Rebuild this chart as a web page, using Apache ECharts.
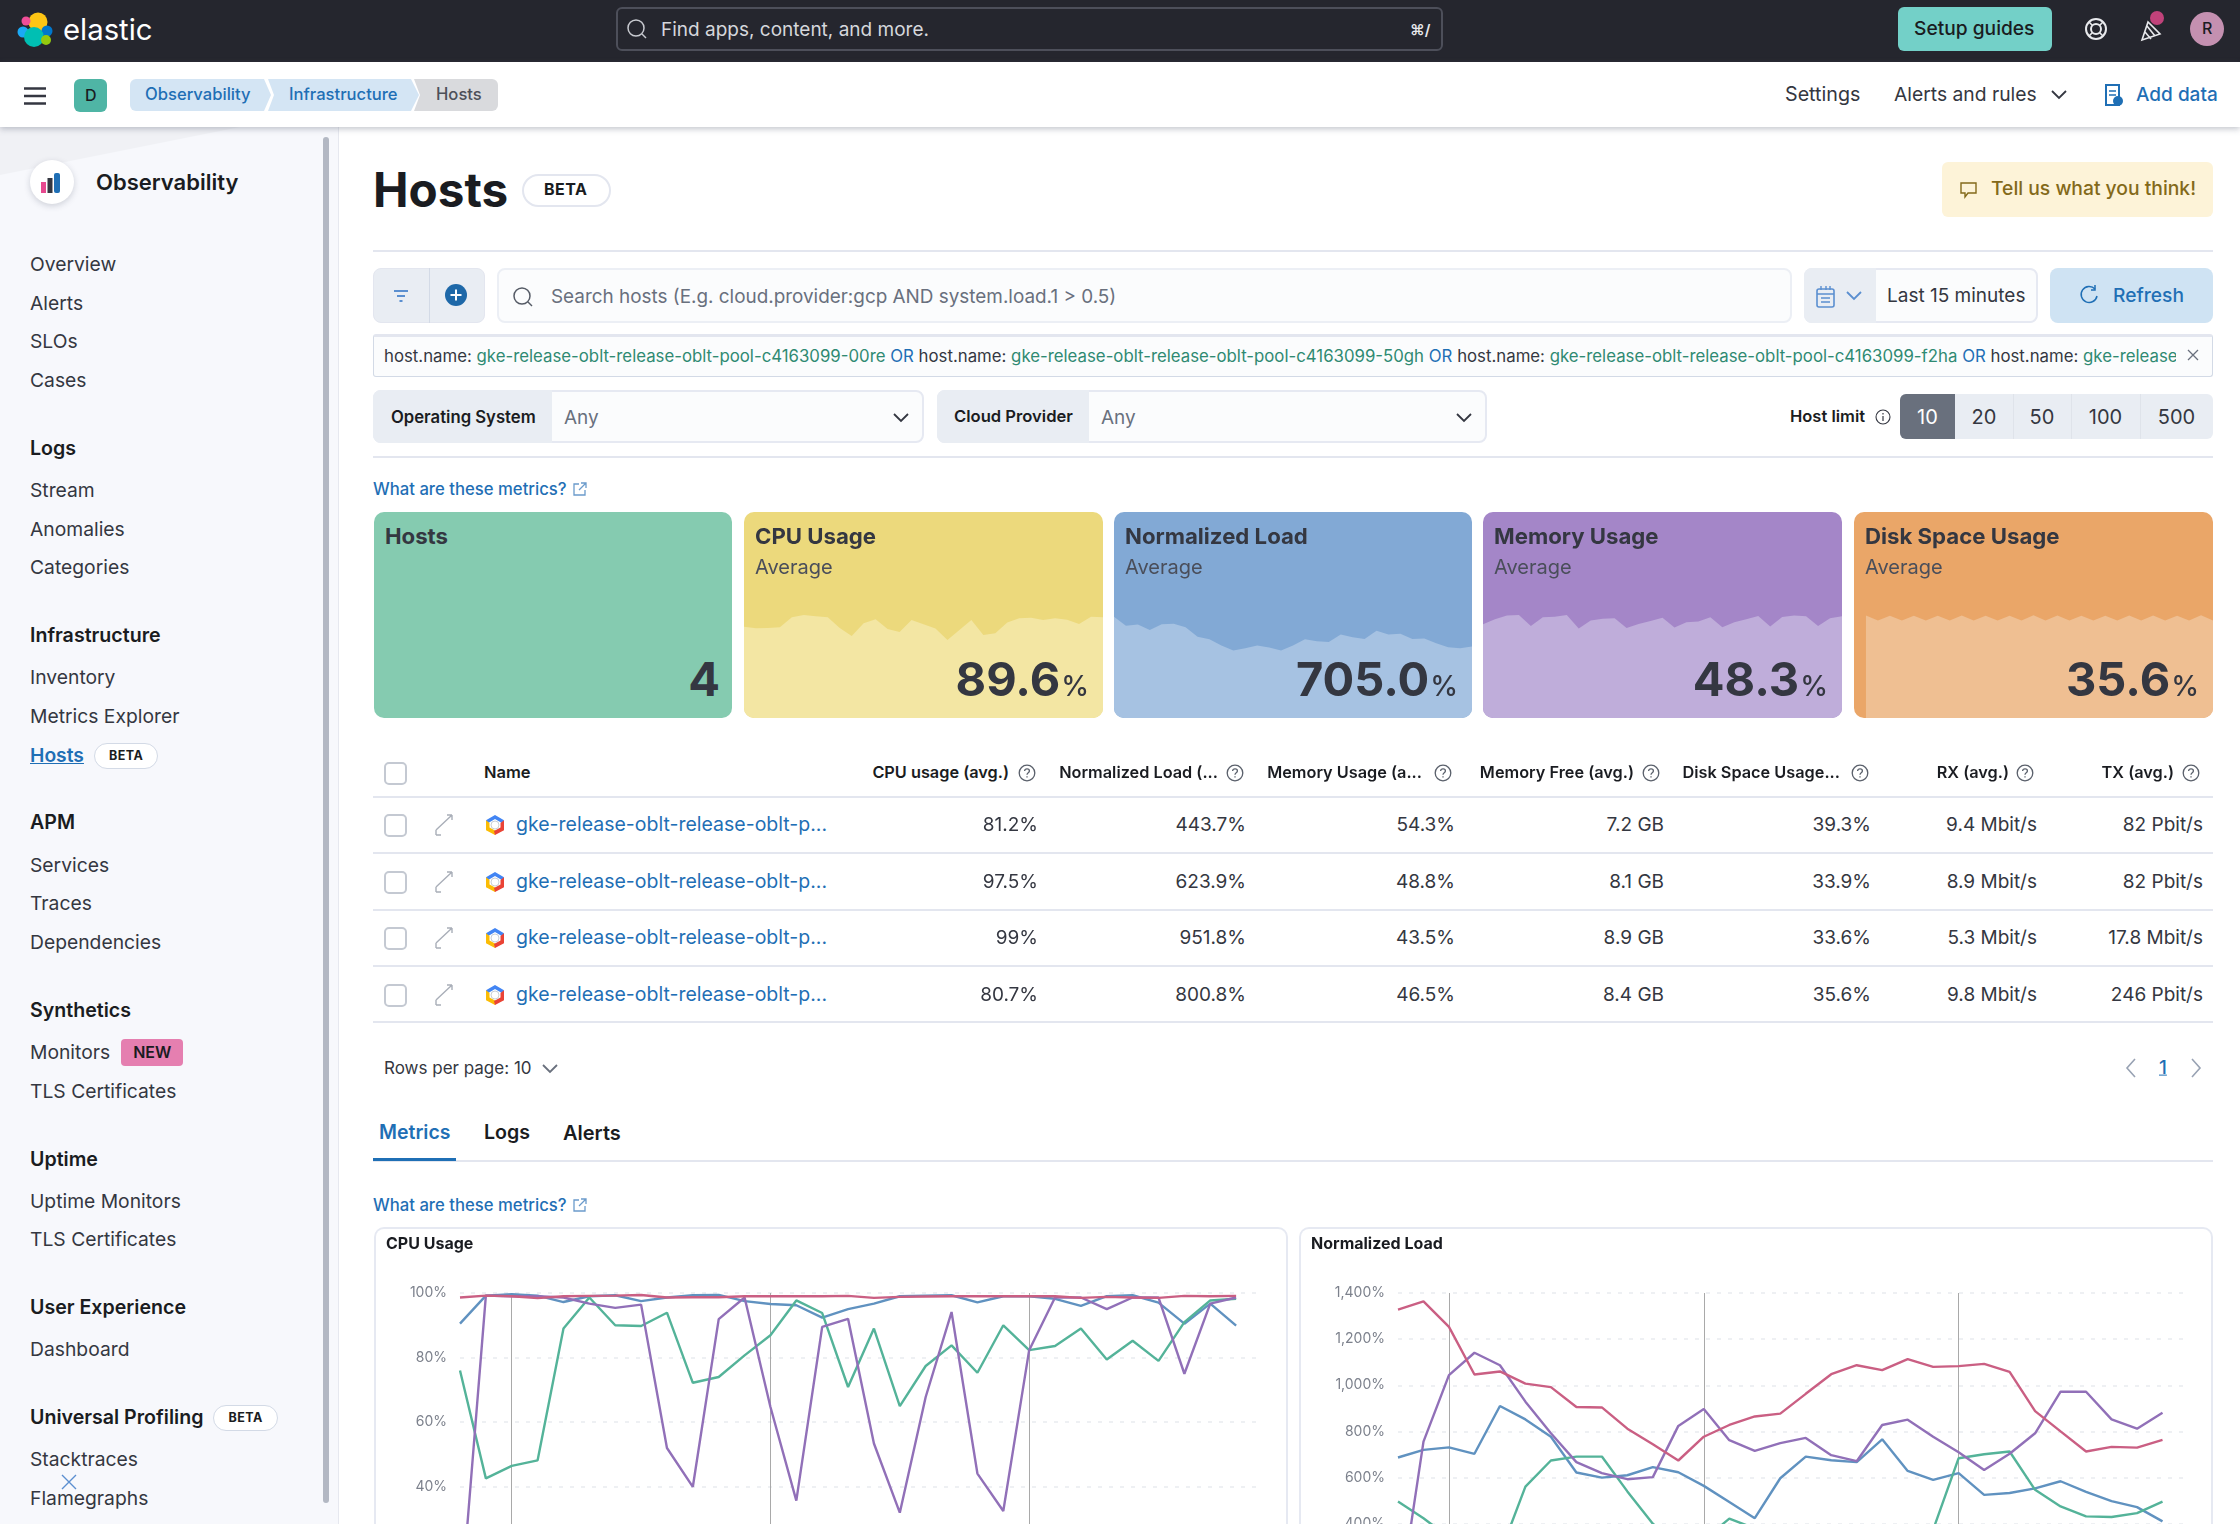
<!DOCTYPE html>
<html>
<head>
<meta charset="utf-8">
<title>Hosts - Elastic</title>
<script src="https://cdn.jsdelivr.net/npm/echarts@6/dist/echarts.min.js"></script>
<style>
  html, body { margin: 0; padding: 0; width: 2240px; height: 1524px; overflow: hidden; background: #fff; }
  body { position: relative; font-family: Inter, "Noto Sans", sans-serif; color: #343741; font-size: 20px; }
  .a { position: absolute; box-sizing: border-box; }
  .t { position: absolute; white-space: nowrap; transform: translateY(-50%); line-height: 1.2; }
  .topbar { left: 0; top: 0; width: 2240px; height: 62px; background: #25262e; }
  .subbar { left: 0; top: 62px; width: 2240px; height: 65px; background: #fff; box-shadow: 0 2px 6px rgba(80,90,110,.35); z-index: 3; }
  .side { left: 0; top: 127px; width: 339px; height: 1397px; background: #f7f8fc; border-right: 1px solid #e6e8ef; overflow: hidden; }
  .sidecorner { left: 0; top: 0; width: 339px; height: 60px; background: #f0f1f5; clip-path: polygon(0 0, 240px 0, 0 48px); }
  .scroll { left: 323px; top: 10px; width: 6px; height: 1366px; background: #b3b8c3; border-radius: 3px; }
  .nav { position: absolute; left: 30px; top: 118px; width: 290px; font-size: 19.3px; }
  .gh { height: 45.3px; line-height: 45.3px; font-weight: 600; font-size: 19.6px; color: #1a1c21; }
  .it { height: 38.7px; line-height: 38.7px; color: #343741; }
  .grp { margin-top: 26px; }
  .cur { color: #1f6fb5; font-weight: 600; text-decoration: underline; }
  .badge { display: inline-block; vertical-align: 2px; height: 26px; line-height: 24px; box-sizing: border-box; padding: 0 14px; margin-left: 10px; border: 1px solid #d3dae6; border-radius: 13px; background: #fff; font-size: 12.5px; font-weight: 700; color: #1a1c21; letter-spacing: .5px; }
  .new { display: inline-block; vertical-align: 1px; height: 27px; line-height: 27px; padding: 0 12px; margin-left: 11px; background: #e57fb0; border-radius: 4px; font-size: 16px; font-weight: 600; color: #1a1c21; }
  .panel { border: 2px solid #e6e9f2; border-bottom: none; border-radius: 10px 10px 0 0; background: #fff; }
  .qtext { position: absolute; left: 10px; top: 0; width: 1792px; height: 39px; line-height: 38px; overflow: hidden; white-space: nowrap; font-size: 16.8px; }
  .qtext b { font-weight: 400; color: #2f8a72; }
  .qtext i { font-style: normal; color: #1f6fb5; }
  svg { position: absolute; overflow: visible; }
</style>
</head>
<body>
<div class="a topbar"></div>
<div class="a subbar"></div>
<div class="a side">
  <div class="a sidecorner"></div>
  <div class="a scroll"></div>
  <div class="nav" id="nav"></div>
</div>
<div class="a panel" style="left:374px;top:1227px;width:914px;height:297px;overflow:hidden"><div id="cpuChart" style="position:absolute;left:-2px;top:-2px;width:914px;height:520px"></div></div>
<div class="a panel" style="left:1299px;top:1227px;width:914px;height:297px;overflow:hidden"><div id="loadChart" style="position:absolute;left:-2px;top:-2px;width:914px;height:520px"></div></div>

<script>
// x axis slots, the last one stays empty like in the screenshot
const timeSlots = ['0','1','2','3','4','5','6','7','8','9','10','11','12','13','14','15','16','17','18','19','20','21','22','23','24','25','26','27','28','29','30','31']

// cpu usage per host
const cpuBlue = [90.5,99.2,99.6,99.2,97.2,99,99.3,97.5,98.6,99.3,99.4,97.5,96.6,96.2,92.4,95,96.7,99,99.2,99.3,97.1,99,99,98.2,96,99,99.3,97,90.5,96.7,89.9]
const cpuGreen = [76,42.6,46.5,48.2,89,98.6,90,89.8,93.9,72.2,74,80.7,86.9,97.7,93.8,70.9,89,65,77.4,83.8,75.3,90,82.3,83.6,89,79.4,85.2,79,91,97.7,98.2]
const cpuPurple = [0,99.2,99,99,98.6,96.7,95.4,96.4,52,40,91.9,98.6,64.7,35.7,89.5,92,53.4,32,67.8,94.1,44.1,32.5,82.3,98.6,98.6,95,98.6,98.6,75,96.7,98.6]
const cpuPink = [98.6,99.2,99,98.4,99,99.1,99.2,99.4,98.6,98.7,98.7,99,99,99,99,99.1,98.5,98.8,98.9,99,99,99,99,99,98.5,98.8,98.6,98.5,99.1,99,99.1]

// normalized load per host
const loadBlue = [687,720,731,703,910,852,777,622,600,610,645,623,564,494,424,597,691,675,667,766,629,590,619,525,533,553,584,538,498,472,410]
const loadGreen = [496,424,340,280,270,561,674,691,691,540,400,290,330,422,380,300,280,260,290,300,320,374,684,701,713,547,475,432,429,446,496]
const loadPurple = [20,756,1044,1141,1087,929,792,667,619,593,602,824,897,762,716,749,772,697,671,828,851,777,710,633,703,792,972,972,852,812,881]
const loadPink = [1328,1364,1253,1047,1060,1007,992,906,904,812,744,674,777,828,865,877,963,1048,1087,1066,1113,1080,1083,1093,1058,888,800,713,733,730,763]

// the little area charts of the kpi tiles
const sparkCpu = [88.7,87.1,87.4,88,97.7,100,98.7,97.7,87.4,79.7,91.9,95.8,86.5,83.5,95.2,91,86.8,75.8,85.5,95.2,80.6,82.3,92.6,96.8,97.4,95.2,96.8,95.5,91.3,98.4,97.7]
const sparkLoad = [885,807,816,769,819,824,792,711,688,633,589,610,633,615,589,633,688,671,665,729,705,691,763,729,737,691,694,653,618,610,624]
const sparkMemory = [45.5,47.9,49.8,50,44.7,48.9,49.2,50,43.5,47.3,48.2,48.4,43.7,45.6,47.1,48.7,43.9,46.5,46.8,48.9,44,46.5,47.9,49.5,44.4,49,49.8,49.4,44.7,48.4,49.4]
const sparkDisk = [null,36.5,34.7,36.4,34.7,36.4,34.7,36.4,34.7,36.5,34.7,36.4,34.7,36.4,34.7,36.6,34.7,36.5,34.7,36.4,34.7,36.4,34.7,36.5,34.7,36.5,34.7,36.4,34.7,36.6,34.7]

// table
const tableColumns = ['CPU usage (avg.)','Normalized Load (...','Memory Usage (a...','Memory Free (avg.)','Disk Space Usage...','RX (avg.)','TX (avg.)']
const tableRows = [
  ['81.2%','443.7%','54.3%','7.2 GB','39.3%','9.4 Mbit/s','82 Pbit/s'],
  ['97.5%','623.9%','48.8%','8.1 GB','33.9%','8.9 Mbit/s','82 Pbit/s'],
  ['99%','951.8%','43.5%','8.9 GB','33.6%','5.3 Mbit/s','17.8 Mbit/s'],
  ['80.7%','800.8%','46.5%','8.4 GB','35.6%','9.8 Mbit/s','246 Pbit/s']
]
const hostLabel = 'gke-release-oblt-release-oblt-p...'

const navGroups = [
  [null, 'Overview', 'Alerts', 'SLOs', 'Cases'],
  ['Logs', 'Stream', 'Anomalies', 'Categories'],
  ['Infrastructure', 'Inventory', 'Metrics Explorer', 'Hosts'],
  ['APM', 'Services', 'Traces', 'Dependencies'],
  ['Synthetics', 'Monitors', 'TLS Certificates'],
  ['Uptime', 'Uptime Monitors', 'TLS Certificates'],
  ['User Experience', 'Dashboard'],
  ['Universal Profiling', 'Stacktraces', 'Flamegraphs']
]

const hostLimits = ['10','20','50','100','500']

const blue = '#6092c0'
const green = '#54b399'
const purple = '#9170b8'
const pink = '#ca5f83'

// ---- page chrome ----
function box(x, y, w, h, css) {
  const d = document.createElement('div')
  d.className = 'a'
  d.style.cssText = `left:${x}px;top:${y}px;width:${w}px;height:${h}px;${css || ''}`
  document.body.appendChild(d)
  return d
}
function text(x, cy, str, css, alignRight) {
  const d = document.createElement('div')
  d.className = 't'
  d.textContent = str
  d.style.cssText = (alignRight ? `right:${2240 - x}px;` : `left:${x}px;`) + `top:${cy}px;z-index:4;${css || ''}`
  document.body.appendChild(d)
  return d
}
function icon(x, y, w, h, inner) {
  const holder = document.createElement('div')
  holder.innerHTML = `<svg style="left:${x}px;top:${y}px;z-index:4" width="${w}" height="${h}" viewBox="0 0 ${w} ${h}" fill="none">${inner}</svg>`
  document.body.appendChild(holder.firstChild)
}
const chevron = (x, y, c) => icon(x, y, 16, 10, `<path d="M1 1l7 7 7-7" stroke="${c || '#343741'}" stroke-width="1.8"/>`)
const help = (cx, cy) => icon(cx - 9, cy - 9, 18, 18, `<circle cx="9" cy="9" r="7.8" stroke="#5a606b" stroke-width="1.3"/><path d="M6.6 7c.3-2.8 4.8-2.6 4.8 0 0 1.8-2.4 1.7-2.4 3.7M9 12.2v1.4" stroke="#5a606b" stroke-width="1.3"/>`)
const external = (x, y) => icon(x, y, 14, 14, `<path d="M6 2H1v11h11V8M8 1h5v5M13 1L6 8" stroke="#6b9bcb" stroke-width="1.3"/>`)
const magnifier = (cx, cy, c) => icon(cx - 11, cy - 11, 22, 22, `<circle cx="10" cy="10" r="8" stroke="${c}" stroke-width="1.5"/><path d="M16 16l4 4" stroke="${c}" stroke-width="1.5"/>`)

// top bar
icon(18, 12, 36, 36, `<circle cx="20" cy="10" r="9.5" fill="#fec514"/><circle cx="8" cy="9" r="4.5" fill="#f04e98"/><circle cx="5" cy="20" r="5.5" fill="#1ba9f5"/><circle cx="29" cy="19" r="5.5" fill="#0077cc"/><circle cx="16" cy="25" r="10" fill="#00bfb3"/><circle cx="28" cy="28" r="5" fill="#93c90e"/>`)
text(63, 30, 'elastic', 'font-size:29.3px;color:#fff')
box(616, 7, 827, 44, 'border:2px solid #4d4f5a;border-radius:6px')
magnifier(637, 29, '#c8cad0')
text(661, 30, 'Find apps, content, and more.', 'font-size:19px;color:#d5d7dc')
text(1410, 30, '⌘/', 'font-size:15px;color:#e8e9ec;font-weight:600')
box(1898, 7, 154, 44, 'background:#73d0c8;border-radius:6px;z-index:4')
text(1914, 29, 'Setup guides', 'font-size:19.2px;font-weight:500;color:#1a1c21')
icon(2085, 18, 22, 22, `<circle cx="11" cy="11" r="10" stroke="#e8e9ec" stroke-width="2"/><circle cx="11" cy="11" r="5" stroke="#e8e9ec" stroke-width="2"/><path d="M4 4l3.5 3.5M18 4l-3.5 3.5M4 18l3.5-3.5M18 18l-3.5-3.5" stroke="#e8e9ec" stroke-width="1.6"/>`)
icon(2141, 16, 22, 26, `<path d="M1 24L7 6l12 12z M6 10l8 10 M4 16l6 7" stroke="#e8e9ec" stroke-width="1.6"/><circle cx="16" cy="2" r="7" fill="#c0427a"/>`)
box(2190, 12, 34, 34, 'background:#c490b0;border-radius:50%;z-index:4')
text(2202, 29, 'R', 'font-size:16px;font-weight:500;color:#1a1c21')

// second bar
icon(24, 87, 22, 18, `<path d="M0 1.5h22M0 9h22M0 16.5h22" stroke="#343741" stroke-width="2.4"/>`)
box(74, 79, 33, 33, 'background:#4fb5a5;border-radius:6px;z-index:4')
text(85, 96, 'D', 'font-size:16px;font-weight:500;color:#1a1c21')
box(130, 79, 141, 32, 'background:#d4e5f4;border-radius:6px 0 0 6px;clip-path:polygon(0 0,134px 0,100% 50%,134px 100%,0 100%);z-index:4')
box(268, 79, 151, 32, 'background:#d4e5f4;clip-path:polygon(0 0,143px 0,100% 50%,143px 100%,0 100%,6px 50%);z-index:4')
box(414, 79, 84, 32, 'background:#d9dadd;border-radius:0 6px 6px 0;clip-path:polygon(0 0,100% 0,100% 100%,0 100%,6px 50%);z-index:4')
text(145, 95, 'Observability', 'font-size:16.6px;font-weight:500;color:#1f6fb5')
text(289, 95, 'Infrastructure', 'font-size:16.6px;font-weight:500;color:#1f6fb5')
text(436, 95, 'Hosts', 'font-size:16.6px;font-weight:500;color:#4d5059')
text(1785, 95, 'Settings', 'font-size:19.7px')
text(1894, 95, 'Alerts and rules', 'font-size:19.3px')
chevron(2051, 90)
icon(2104, 84, 20, 24, `<path d="M2 1h13v20H2z" stroke="#1f6fb5" stroke-width="2"/><path d="M5 7h7M5 11h7" stroke="#1f6fb5" stroke-width="1.6"/><circle cx="14" cy="17" r="5" fill="#1f6fb5"/>`)
text(2136, 95, 'Add data', 'font-size:19px;font-weight:500;color:#1f6fb5')

// sidebar
const nav = document.getElementById('nav')
navGroups.forEach((group, g) => {
  const wrap = document.createElement('div')
  if (g > 0) wrap.className = 'grp'
  group.forEach((name, i) => {
    if (name === null) return
    const row = document.createElement('div')
    row.className = i === 0 ? 'gh' : 'it'
    if (name === 'Hosts') {
      row.innerHTML = '<span class="cur">Hosts</span><span class="badge">BETA</span>'
    } else if (name === 'Monitors') {
      row.innerHTML = 'Monitors<span class="new">NEW</span>'
    } else if (name === 'Universal Profiling') {
      row.innerHTML = 'Universal Profiling<span class="badge">BETA</span>'
    } else {
      row.textContent = name
    }
    wrap.appendChild(row)
  })
  nav.appendChild(wrap)
})
box(30, 160, 44, 44, 'background:#fff;border-radius:50%;box-shadow:0 2px 6px rgba(60,70,90,.22);z-index:4')
icon(41, 173, 22, 20, `<rect x="0" y="9" width="5" height="11" fill="#e6498f"/><rect x="6.5" y="5" width="5" height="15" fill="#343741"/><rect x="13" y="0" width="6" height="20" rx="2" fill="#1f6fb5"/>`)
text(96, 182, 'Observability', 'font-size:22px;font-weight:600;color:#1a1c21')
icon(62, 1475, 14, 14, `<path d="M0 0l14 14M14 0L0 14" stroke="#5b8fd0" stroke-width="1.4"/>`)

// title
text(373, 190, 'Hosts', 'font-size:47.6px;font-weight:700;color:#1a1c21')
box(522, 174, 89, 33, 'background:#fff;border:2px solid #e3e6ef;border-radius:17px')
text(544, 190, 'BETA', 'font-size:16px;font-weight:700;color:#1a1c21;letter-spacing:.5px')
box(1942, 162, 271, 55, 'background:#fdf3d8;border-radius:6px')
icon(1960, 181, 18, 18, `<path d="M1 2h15v10H8l-3 4v-4H1z" stroke="#83691a" stroke-width="1.4"/>`)
text(1991, 189, 'Tell us what you think!', 'font-size:19.3px;font-weight:500;color:#83691a')
box(373, 250, 1840, 2, 'background:#e3e6ef')

// search row
box(373, 268, 112, 55, 'background:#e9edf3;border-radius:8px;border:1px solid #e3e6ef')
box(429, 268, 1, 55, 'background:#d3dae6;z-index:4')
icon(393, 289, 16, 14, `<path d="M1 2h14M4 7h8M6.5 12h3" stroke="#5b8fd0" stroke-width="1.8"/>`)
icon(445, 284, 22, 22, `<circle cx="11" cy="11" r="11" fill="#1e68a8"/><path d="M11 5.5v11M5.5 11h11" stroke="#fff" stroke-width="2"/>`)
box(497, 268, 1295, 55, 'background:#fbfcfd;border:2px solid #eceff5;border-radius:8px')
magnifier(523, 297, '#555b66')
text(551, 297, 'Search hosts (E.g. cloud.provider:gcp AND system.load.1 > 0.5)', 'font-size:18.9px;color:#69707d')
box(1804, 268, 234, 55, 'background:#fbfcfd;border:2px solid #e6e9f2;border-radius:8px')
box(1804, 268, 72, 55, 'background:#e9edf3;border-radius:8px 0 0 8px')
icon(1816, 285, 20, 24, `<rect x="1" y="4" width="17" height="18" rx="2" stroke="#5b8fd0" stroke-width="1.6"/><path d="M1 9h17M5 1v4M10 1v4M14 1v4M5 13h9M5 17h9" stroke="#5b8fd0" stroke-width="1.4"/>`)
chevron(1846, 291, '#5b8fd0')
text(1887, 296, 'Last 15 minutes', 'font-size:19px;color:#343741')
box(2050, 268, 163, 55, 'background:#cfe3f3;border-radius:8px')
icon(2081, 285, 18, 20, `<path d="M14 4A8 8 0 1 0 16 11" stroke="#1f6fb5" stroke-width="1.5"/><path d="M14 0v5h-4" stroke="#1f6fb5" stroke-width="1.5"/>`)
text(2113, 296, 'Refresh', 'font-size:19.2px;font-weight:500;color:#1f6fb5')

// query bar
const queryBox = box(373, 334, 1840, 43, 'background:#fbfcfd;border:1px solid #d3dae6;border-top:3px solid #e3e6ef;border-radius:3px')
const queryText = document.createElement('div')
queryText.className = 'qtext'
queryText.innerHTML = 'host.name: <b>gke-release-oblt-release-oblt-pool-c4163099-00re</b> <i>OR</i> host.name: <b>gke-release-oblt-release-oblt-pool-c4163099-50gh</b> <i>OR</i> host.name: <b>gke-release-oblt-release-oblt-pool-c4163099-f2ha</b> <i>OR</i> host.name: <b>gke-release-oblt-release-oblt-pool-c4163099-zz9x</b>'
queryBox.appendChild(queryText)
icon(2187, 349, 12, 12, `<path d="M1 1l10 10M11 1L1 11" stroke="#69707d" stroke-width="1.3"/>`)

// filter row
box(373, 390, 551, 53, 'background:#fbfcfd;border:2px solid #e6e9f2;border-radius:8px')
box(373, 390, 179, 53, 'background:#e9edf3;border-radius:8px 0 0 8px')
text(391, 417, 'Operating System', 'font-size:16.7px;font-weight:600;color:#1a1c21')
text(564, 418, 'Any', 'font-size:19px;color:#69707d')
chevron(893, 413)
box(937, 390, 550, 53, 'background:#fbfcfd;border:2px solid #e6e9f2;border-radius:8px')
box(937, 390, 152, 53, 'background:#e9edf3;border-radius:8px 0 0 8px')
text(954, 417, 'Cloud Provider', 'font-size:16.6px;font-weight:600;color:#1a1c21')
text(1101, 418, 'Any', 'font-size:19px;color:#69707d')
chevron(1456, 413)
text(1790, 417, 'Host limit', 'font-size:16.5px;font-weight:600;color:#1a1c21')
icon(1875, 409, 16, 16, `<circle cx="8" cy="8" r="7" stroke="#343741" stroke-width="1.1"/><path d="M8 7v5M8 4v1.5" stroke="#343741" stroke-width="1.2"/>`)
box(1900, 394, 313, 45, 'background:#e9edf3;border-radius:6px')
box(1900, 394, 55, 45, 'background:#69707d;border-radius:6px 0 0 6px')
const limitRight = [1955, 2013, 2071, 2140, 2213]
hostLimits.forEach((label, i) => {
  const left = i === 0 ? 1900 : limitRight[i - 1]
  if (i > 1) box(left, 394, 1, 45, 'background:#dfe3ea')
  text(left, 417, label, `font-size:20px;text-align:center;width:${limitRight[i] - left}px;color:${i === 0 ? '#fff' : '#343741'}`)
})
box(373, 456, 1840, 2, 'background:#e3e6ef')

text(373, 489, 'What are these metrics?', 'font-size:16.7px;font-weight:500;color:#1f6fb5')
external(573, 482)

// kpi tiles
function tile(x, w, bg, title, sub, value, unit) {
  const card = box(x, 512, w, 206, `background:${bg};border-radius:10px;overflow:hidden`)
  text(x + 11, 536, title, 'font-size:22.2px;font-weight:700;color:#343741')
  if (sub) text(x + 11, 567, sub, 'font-size:20px;color:#4a4e5a')
  const v = text(x + w - (unit ? 14 : 12), 679, value, 'font-size:47px;font-weight:700;color:#343741', true)
  if (unit) {
    const u = document.createElement('span')
    u.textContent = unit
    u.style.cssText = 'font-size:28px;font-weight:500;margin-left:1px'
    v.appendChild(u)
  }
  return card
}
tile(374, 358, '#85cbb0', 'Hosts', '', '4', '')
const sparks = [
  [tile(744, 359, '#ecd97c', 'CPU Usage', 'Average', '89.6', '%'), sparkCpu, 200, '#f3e6a3'],
  [tile(1114, 358, '#82a9d5', 'Normalized Load', 'Average', '705.0', '%'), sparkLoad, 1800, '#a6c2e2'],
  [tile(1483, 359, '#a486c8', 'Memory Usage', 'Average', '48.3', '%'), sparkMemory, 100, '#bfadda'],
  [tile(1854, 359, '#eaa668', 'Disk Space Usage', 'Average', '35.6', '%'), sparkDisk, 73.4, '#efbf92']
]
sparks.forEach(([card, values, top, color]) => {
  const myChart = echarts.init(card)
  myChart.setOption({
    animation: false,
    grid: { left: 0, right: 0, top: 0, bottom: 0 },
    xAxis: { type: 'category', show: false, boundaryGap: false, data: values.map((v, i) => i) },
    yAxis: { type: 'value', show: false, min: 0, max: top },
    series: [{
      type: 'line',
      data: values,
      showSymbol: false,
      lineStyle: { width: 0 },
      areaStyle: { color: color, opacity: 1 }
    }]
  })
})

// host table
box(384, 762, 23, 23, 'border:2px solid #c4c9d2;border-radius:5px;background:#fff')
text(484, 773, 'Name', 'font-size:16.5px;font-weight:600;color:#1a1c21')
const headerRight = [1009, 1218, 1422, 1634, 1840, 2009, 2174]
const helpX = [1027, 1235, 1443, 1651, 1860, 2025, 2191]
const valueRight = [1038, 1246, 1455, 1664, 1871, 2037, 2203]
tableColumns.forEach((name, i) => {
  text(headerRight[i], 773, name, 'font-size:16.3px;font-weight:600;color:#1a1c21', true)
  help(helpX[i], 773)
})
box(373, 796, 1840, 2, 'background:#e3e6ef')
const rowCentre = [825, 882, 938, 995]
const rowRule = [852, 909, 965, 1021]
tableRows.forEach((row, r) => {
  const cy = rowCentre[r]
  box(384, cy - 11, 23, 23, 'border:2px solid #c4c9d2;border-radius:5px;background:#fff')
  icon(435, cy - 11, 20, 22, `<path d="M1 16L17 1M17 1h-5M17 1v5M1 16v5M1 21h5" stroke="#a9aeb8" stroke-width="1.4"/>`)
  icon(484, cy - 11, 22, 22, `<path d="M11 1l9 5.2-1 3.5-8-4.6-8 4.6-1-3.5z" fill="#4285f4"/><path d="M2 6.2v10L11 21l1-4-6.5-3.4V9z" fill="#fbbc05"/><path d="M20 6.2v10L11 21l-1-4 6.5-3.4V9z" fill="#ea4335"/><circle cx="11" cy="11" r="4" fill="#fff" stroke="#c9ced6"/>`)
  text(516, cy, hostLabel, 'font-size:19.5px;color:#1f6fb5')
  row.forEach((value, c) => text(valueRight[c], cy, value, 'font-size:19px;color:#343741', true))
  box(373, rowRule[r], 1840, 2, 'background:#e3e6ef')
})
text(384, 1068, 'Rows per page: 10', 'font-size:17px;color:#343741')
chevron(542, 1064, '#69707d')
icon(2126, 1058, 10, 20, `<path d="M9 1L1 10l8 9" stroke="#98a2b3" stroke-width="1.6"/>`)
text(2159, 1068, '1', 'font-size:19px;font-weight:500;color:#1f6fb5;text-decoration:underline')
icon(2191, 1058, 10, 20, `<path d="M1 1l8 9-8 9" stroke="#98a2b3" stroke-width="1.6"/>`)

// tabs
text(379, 1133, 'Metrics', 'font-size:19.5px;font-weight:600;color:#1f6fb5')
text(484, 1133, 'Logs', 'font-size:19.6px;font-weight:600;color:#1a1c21')
text(563, 1133, 'Alerts', 'font-size:20px;font-weight:600;color:#1a1c21')
box(373, 1160, 1840, 2, 'background:#e3e6ef')
box(373, 1158, 83, 3, 'background:#1f6fb5;z-index:4')
text(373, 1205, 'What are these metrics?', 'font-size:16.7px;font-weight:500;color:#1f6fb5')
external(573, 1198)

// ---- the two line charts ----
function lineChart(id, title, gridLeft, gridRight, top, tickStep, series) {
  const myChart = echarts.init(document.getElementById(id))
  myChart.setOption({
    animation: false,
    color: [blue, green, purple, pink],
    title: {
      text: title,
      left: 12,
      top: 9,
      padding: 0,
      textStyle: { fontFamily: 'Inter', fontSize: 16, fontWeight: 700, color: '#1a1c21' }
    },
    grid: { left: gridLeft, right: gridRight, top: 66, height: 323 },
    xAxis: {
      type: 'category',
      boundaryGap: false,
      data: timeSlots,
      axisLine: { show: false },
      axisTick: { show: false },
      axisLabel: { show: false },
      splitLine: {
        show: true,
        interval: (index) => index % 10 === 2,
        lineStyle: { color: '#a9a9a9', width: 1 }
      }
    },
    yAxis: {
      type: 'value',
      min: 0,
      max: top,
      interval: tickStep,
      axisLine: { show: false },
      axisTick: { show: false },
      axisLabel: {
        margin: 13,
        fontFamily: 'Inter',
        fontSize: 14,
        color: '#7c818c',
        formatter: (v) => v.toLocaleString('en-US') + '%'
      },
      splitLine: { lineStyle: { color: '#e9ebef', type: [4, 7], width: 1.5 } }
    },
    series: series.map((values) => ({
      type: 'line',
      data: values,
      showSymbol: false,
      lineStyle: { width: 2.4 },
      emphasis: { disabled: true }
    }))
  })
}
lineChart('cpuChart', 'CPU Usage', 86, 26, 100, 20, [cpuBlue, cpuGreen, cpuPurple, cpuPink])
lineChart('loadChart', 'Normalized Load', 99, 25, 1400, 200, [loadBlue, loadGreen, loadPurple, loadPink])
</script>
</body>
</html>
